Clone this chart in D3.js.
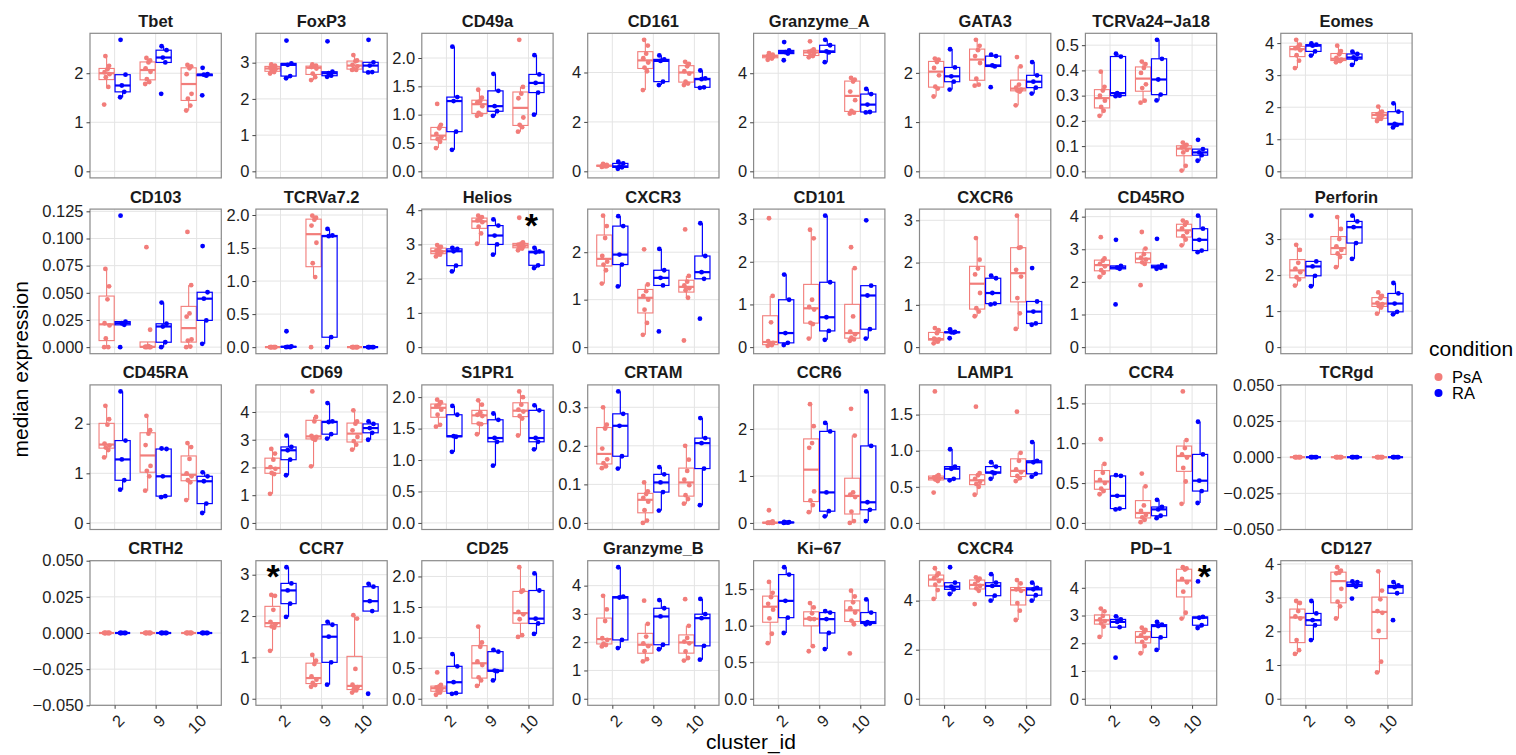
<!DOCTYPE html>
<html>
<head>
<meta charset="utf-8">
<script src="https://cdn.jsdelivr.net/npm/d3@7"></script>
<style>
body { margin: 0; background: #fff; }
text { font-family: "Liberation Sans", Arial, Helvetica, sans-serif; }
</style>
</head>
<body>
<div id="chart"></div>
<script>
var clusters = ["2", "9", "10"];
var conditions = ["PsA", "RA"];
var markers = ["Tbet", "FoxP3", "CD49a", "CD161", "Granzyme_A", "GATA3", "TCRVa24\u2212Ja18", "Eomes",
    "CD103", "TCRVa7.2", "Helios", "CXCR3", "CD101", "CXCR6", "CD45RO", "Perforin",
    "CD45RA", "CD69", "S1PR1", "CRTAM", "CCR6", "LAMP1", "CCR4", "TCRgd",
    "CRTH2", "CCR7", "CD25", "Granzyme_B", "Ki\u221267", "CXCR4", "PD\u22121", "CD127"];

// every marker: [PsA 2, RA 2, PsA 9, RA 9, PsA 10, RA 10]
var Tbet = [[1.36, 1.72, 1.92, 1.98, 2.02, 2.08, 2.15, 2.35], [1.51, 1.62, 1.75, 1.97, 2.68],
    [1.78, 1.82, 1.88, 2.03, 2.10, 2.22, 2.26, 2.31], [1.58, 2.22, 2.32, 2.47, 2.55],
    [1.24, 1.34, 1.48, 1.58, 1.98, 2.10, 2.14, 2.17], [1.55, 1.95, 1.97, 1.98, 2.11]];
var FoxP3 = [[2.70, 2.74, 2.77, 2.82, 2.86, 2.89, 2.92, 2.95], [2.57, 2.63, 2.94, 2.98, 3.61],
    [2.52, 2.60, 2.70, 2.84, 2.88, 2.90, 2.92, 2.95], [2.61, 2.64, 2.71, 2.75, 3.59],
    [2.80, 2.80, 2.83, 2.90, 2.94, 3.04, 3.06, 3.21], [2.73, 2.74, 2.92, 3.01, 3.63]];
var CD49a = [[0.41, 0.52, 0.57, 0.60, 0.66, 0.76, 0.82, 1.19], [0.38, 0.70, 1.24, 1.31, 2.20],
    [0.98, 1.00, 1.03, 1.15, 1.22, 1.24, 1.30, 1.44], [0.98, 1.06, 1.15, 1.42, 1.72],
    [0.70, 0.78, 0.82, 0.95, 1.29, 1.37, 1.49, 2.32], [1.00, 1.39, 1.56, 1.71, 2.05]];
var CD161 = [[0.18, 0.20, 0.21, 0.22, 0.23, 0.24, 0.26, 0.30], [0.10, 0.16, 0.20, 0.32, 0.39],
    [3.29, 4.05, 4.20, 4.40, 4.58, 4.76, 5.09, 5.32], [3.49, 3.63, 4.47, 4.53, 4.69],
    [3.49, 3.55, 3.63, 3.95, 4.05, 4.25, 4.35, 4.43], [3.38, 3.40, 3.73, 3.76, 4.08]];
var Granzyme_A = [[4.55, 4.60, 4.64, 4.68, 4.71, 4.73, 4.76, 4.82], [4.53, 4.80, 4.86, 4.93, 5.27],
    [4.65, 4.70, 4.73, 4.82, 4.88, 4.92, 4.97, 5.30], [4.45, 4.85, 4.89, 5.14, 5.36],
    [2.35, 2.39, 2.46, 2.90, 3.25, 3.66, 3.74, 3.81], [2.40, 2.42, 2.72, 3.15, 3.36]];
var GATA3 = [[1.52, 1.68, 1.72, 1.95, 2.10, 2.22, 2.27, 2.29], [1.66, 1.82, 1.93, 2.11, 2.48],
    [1.74, 1.76, 1.88, 2.20, 2.34, 2.46, 2.55, 2.67], [1.71, 2.13, 2.15, 2.34, 2.37],
    [1.34, 1.62, 1.64, 1.66, 1.70, 1.76, 2.13, 2.32], [1.58, 1.70, 1.82, 1.95, 2.22]];
var TCRVa24_Ja18 = [[0.22, 0.24, 0.255, 0.28, 0.30, 0.32, 0.335, 0.395], [0.298, 0.30, 0.31, 0.455, 0.466],
    [0.272, 0.28, 0.33, 0.345, 0.39, 0.41, 0.425, 0.435], [0.281, 0.304, 0.364, 0.446, 0.521],
    [0.003, 0.022, 0.075, 0.085, 0.095, 0.10, 0.105, 0.114], [0.042, 0.064, 0.075, 0.088, 0.125]];
var Eomes = [[3.22, 3.45, 3.62, 3.78, 3.84, 3.88, 3.95, 4.10], [3.61, 3.74, 3.92, 3.95, 3.99],
    [3.40, 3.44, 3.46, 3.48, 3.54, 3.65, 3.75, 3.92], [3.32, 3.50, 3.55, 3.66, 3.73],
    [1.57, 1.64, 1.66, 1.74, 1.78, 1.82, 1.86, 2.02], [1.37, 1.45, 1.48, 1.86, 2.12]];
var CD103 = [[0, 0, 0.008, 0.020, 0.022, 0.044, 0.056, 0.072], [0, 0.0205, 0.022, 0.0235, 0.121],
    [0, 0, 0, 0, 0.0005, 0.001, 0.016, 0.092], [0, 0.0045, 0.019, 0.0215, 0.041],
    [0, 0.0005, 0.006, 0.007, 0.028, 0.031, 0.057, 0.106], [0.003, 0.0246, 0.0446, 0.0505, 0.093]];
var TCRVa7_2 = [[0, 0, 0, 0, 0, 0, 0, 0], [0, 0, 0.005, 0.01, 0.24],
    [0, 1.06, 1.27, 1.58, 1.84, 1.93, 1.96, 1.99], [0, 0.15, 1.68, 1.69, 1.79],
    [0, 0, 0, 0, 0, 0, 0, 0], [0, 0, 0, 0, 0]];
var Helios = [[2.65, 2.70, 2.74, 2.78, 2.82, 2.88, 2.93, 2.98], [2.21, 2.38, 2.80, 2.87, 2.90],
    [3.02, 3.32, 3.52, 3.65, 3.70, 3.76, 3.80, 3.84], [2.70, 3.00, 3.26, 3.55, 3.73],
    [2.83, 2.88, 2.91, 2.95, 2.99, 3.02, 3.06, 3.78], [2.31, 2.39, 2.77, 2.80, 2.90]];
var CXCR3 = [[1.34, 1.62, 1.74, 1.80, 1.92, 2.30, 2.55, 2.77], [1.28, 1.74, 1.95, 2.55, 2.76],
    [0.26, 0.51, 0.79, 1.00, 1.08, 1.18, 1.32, 2.06], [0.33, 1.30, 1.46, 1.62, 2.07],
    [0.14, 1.04, 1.20, 1.24, 1.30, 1.38, 1.50, 2.48], [0.60, 1.44, 1.58, 1.92, 2.61]];
var CD101 = [[0.03, 0.05, 0.06, 0.10, 0.14, 0.58, 1.20, 3.02], [0.05, 0.10, 0.33, 1.11, 1.70],
    [0.20, 0.54, 0.57, 0.88, 0.94, 1.11, 2.55, 2.75], [0.17, 0.38, 0.70, 1.52, 3.08],
    [0.15, 0.18, 0.22, 0.30, 0.36, 0.72, 1.85, 2.34], [0.20, 0.42, 1.21, 1.44, 2.97]];
var CXCR6 = [[0.09, 0.13, 0.18, 0.18, 0.20, 0.33, 0.40, 0.45], [0.21, 0.345, 0.35, 0.36, 0.42],
    [0.73, 0.84, 0.92, 1.28, 1.72, 1.86, 2.07, 2.58], [1.01, 1.03, 1.28, 1.63, 1.69],
    [0.43, 0.80, 1.16, 1.67, 1.83, 2.35, 2.36, 3.11], [0.53, 0.56, 0.84, 1.08, 1.87]];
var CD45RO = [[2.15, 2.28, 2.36, 2.48, 2.55, 2.65, 2.72, 3.37], [1.31, 2.40, 2.44, 2.49, 3.29],
    [1.90, 2.55, 2.60, 2.68, 2.74, 2.85, 3.02, 3.53], [2.40, 2.43, 2.46, 2.51, 3.32],
    [3.12, 3.30, 3.40, 3.52, 3.64, 3.75, 3.82, 3.88], [2.91, 2.96, 3.29, 3.63, 4.03]];
var Perforin = [[1.71, 1.88, 1.94, 2.08, 2.18, 2.34, 2.70, 2.84], [1.69, 1.98, 2.24, 2.38, 3.65],
    [2.22, 2.50, 2.60, 2.70, 2.80, 3.00, 3.28, 3.61], [2.45, 2.89, 3.33, 3.49, 3.65],
    [0.93, 1.10, 1.14, 1.19, 1.23, 1.36, 1.42, 1.52], [0.91, 0.98, 1.21, 1.49, 1.78]];
var CD45RA = [[1.32, 1.47, 1.52, 1.56, 1.60, 1.98, 2.09, 2.36], [0.67, 0.86, 1.28, 1.66, 2.65],
    [0.65, 0.94, 1.05, 1.15, 1.57, 1.80, 1.87, 2.16], [0.52, 0.54, 0.94, 1.49, 1.50],
    [0.46, 0.82, 0.86, 0.94, 1.00, 1.29, 1.53, 1.61], [0.20, 0.39, 0.84, 0.94, 1.02]];
var CD69 = [[1.05, 1.76, 1.80, 1.95, 2.01, 2.28, 2.50, 2.67], [1.72, 2.28, 2.62, 2.74, 3.15],
    [2.04, 3.00, 3.04, 3.10, 3.14, 3.66, 3.82, 4.74], [3.04, 3.20, 3.64, 3.66, 4.32],
    [2.64, 2.82, 2.95, 3.10, 3.34, 3.58, 3.66, 4.06], [3.00, 3.25, 3.42, 3.57, 3.66]];
var S1PR1 = [[1.53, 1.56, 1.72, 1.80, 1.86, 1.88, 1.92, 1.96], [1.13, 1.37, 1.38, 1.72, 1.86],
    [1.41, 1.57, 1.58, 1.70, 1.72, 1.76, 1.88, 1.95], [0.91, 1.29, 1.35, 1.64, 1.74],
    [1.39, 1.66, 1.70, 1.77, 1.80, 1.88, 2.00, 2.09], [1.17, 1.29, 1.35, 1.79, 1.87]];
var CRTAM = [[0.142, 0.147, 0.155, 0.165, 0.193, 0.245, 0.255, 0.300], [0.141, 0.173, 0.252, 0.283, 0.341],
    [0.000, 0.006, 0.033, 0.055, 0.065, 0.075, 0.082, 0.105], [0.032, 0.080, 0.105, 0.126, 0.145],
    [0.050, 0.062, 0.072, 0.098, 0.112, 0.135, 0.164, 0.200], [0.046, 0.141, 0.207, 0.220, 0.272]];
var CCR6 = [[0, 0, 0, 0, 0.005, 0.01, 0.03, 0.27], [0, 0.005, 0.01, 0.015, 0.02],
    [0.23, 0.38, 0.48, 0.67, 1.60, 1.70, 2.06, 2.53], [0.14, 0.25, 0.65, 1.95, 2.13],
    [0, 0.04, 0.24, 0.55, 0.60, 0.65, 1.86, 2.43], [0.04, 0.28, 0.44, 1.64, 2.80]];
var LAMP1 = [[0.42, 0.58, 0.60, 0.61, 0.63, 0.645, 0.66, 1.82], [0.59, 0.61, 0.75, 0.78, 1.02],
    [0.39, 0.50, 0.54, 0.57, 0.61, 0.66, 0.69, 1.61], [0.61, 0.69, 0.70, 0.78, 0.84],
    [0.58, 0.62, 0.65, 0.70, 0.74, 0.86, 0.97, 1.54], [0.64, 0.68, 0.84, 0.86, 1.12]];
var CCR4 = [[0.36, 0.40, 0.43, 0.50, 0.54, 0.63, 0.74, 1.05], [0.17, 0.18, 0.34, 0.59, 0.60],
    [0.01, 0.04, 0.07, 0.10, 0.15, 0.22, 0.46, 0.62], [0.06, 0.09, 0.17, 0.20, 0.29],
    [0.24, 0.52, 0.69, 0.82, 0.86, 0.94, 1.04, 1.65], [0.25, 0.40, 0.53, 0.86, 1.27]];
var TCRgd = [[0, 0, 0, 0, 0, 0, 0, 0], [0, 0, 0, 0, 0], [0, 0, 0, 0, 0, 0, 0, 0], [0, 0, 0, 0, 0],
    [0, 0, 0, 0, 0, 0, 0, 0], [0, 0, 0, 0, 0]];
var CRTH2 = [[0, 0, 0, 0, 0, 0, 0, 0], [0, 0, 0, 0, 0], [0, 0, 0, 0, 0, 0, 0, 0], [0, 0, 0, 0, 0],
    [0, 0, 0, 0, 0, 0, 0, 0], [0, 0, 0, 0, 0]];
var CCR7 = [[1.16, 1.72, 1.75, 1.80, 1.86, 2.15, 2.49, 2.51], [1.98, 2.30, 2.62, 2.79, 3.18],
    [0.29, 0.33, 0.38, 0.46, 0.54, 0.84, 0.92, 1.06], [0.34, 0.88, 1.50, 1.79, 1.86],
    [0.15, 0.20, 0.23, 0.28, 0.34, 0.72, 1.94, 2.02], [0.12, 2.12, 2.36, 2.71, 2.78]];
var CD25 = [[0.065, 0.10, 0.13, 0.16, 0.185, 0.20, 0.225, 0.43], [0.08, 0.09, 0.27, 0.53, 0.73],
    [0.21, 0.30, 0.35, 0.55, 0.61, 0.85, 0.92, 1.18], [0.30, 0.45, 0.46, 0.77, 0.80],
    [1.01, 1.04, 1.30, 1.38, 1.42, 1.75, 1.77, 2.15], [1.06, 1.23, 1.31, 1.77, 2.05]];
var Granzyme_B = [[1.85, 1.90, 1.95, 2.08, 2.14, 2.75, 3.16, 3.64], [1.79, 2.08, 3.58, 3.61, 4.65],
    [1.32, 1.40, 1.68, 1.86, 1.96, 2.20, 2.65, 3.47], [1.75, 1.91, 2.91, 3.20, 3.49],
    [1.35, 1.44, 1.67, 1.96, 2.02, 2.15, 2.58, 3.52], [1.38, 1.87, 2.85, 2.99, 3.53]];
var Ki_67 = [[0.76, 0.89, 1.10, 1.22, 1.30, 1.39, 1.45, 1.60], [0.90, 1.11, 1.34, 1.70, 1.80],
    [0.65, 0.72, 1.09, 1.09, 1.10, 1.17, 1.25, 1.31], [0.68, 0.90, 1.09, 1.18, 1.20],
    [0.62, 1.02, 1.07, 1.18, 1.24, 1.32, 1.40, 1.48], [1.02, 1.03, 1.05, 1.18, 1.36]];
var CXCR4 = [[4.07, 4.43, 4.65, 4.80, 4.92, 5.02, 5.11, 5.32], [4.27, 4.46, 4.57, 4.73, 5.36],
    [3.86, 4.40, 4.50, 4.60, 4.68, 4.82, 4.90, 4.95], [4.00, 4.20, 4.60, 4.73, 5.08],
    [3.21, 3.59, 3.90, 4.40, 4.46, 4.48, 4.70, 4.84], [4.00, 4.22, 4.46, 4.52, 4.73]];
var PD_1 = [[2.23, 2.60, 2.72, 2.80, 2.86, 2.98, 3.15, 3.25], [1.48, 2.58, 2.77, 2.86, 2.97],
    [1.64, 1.90, 2.05, 2.18, 2.28, 2.40, 2.48, 2.56], [1.76, 2.21, 2.62, 2.67, 2.77],
    [2.89, 3.10, 3.86, 4.20, 4.32, 4.66, 4.70, 4.74], [2.55, 2.65, 2.92, 2.95, 4.23]];
var CD127 = [[1.33, 1.44, 1.74, 2.38, 2.44, 2.60, 2.84, 2.90], [1.74, 2.18, 2.33, 2.53, 2.90],
    [2.38, 2.74, 2.88, 3.26, 3.72, 3.74, 3.80, 3.90], [2.97, 3.33, 3.38, 3.46, 3.48],
    [0.78, 1.10, 2.01, 2.55, 2.60, 2.95, 3.21, 3.78], [2.33, 3.13, 3.31, 3.36, 3.46]];

var markerData = [Tbet, FoxP3, CD49a, CD161, Granzyme_A, GATA3, TCRVa24_Ja18, Eomes,
    CD103, TCRVa7_2, Helios, CXCR3, CD101, CXCR6, CD45RO, Perforin,
    CD45RA, CD69, S1PR1, CRTAM, CCR6, LAMP1, CCR4, TCRgd,
    CRTH2, CCR7, CD25, Granzyme_B, Ki_67, CXCR4, PD_1, CD127];

var m = "\u2212";
var tickLabels = [
    ["0", "1", "2"], ["0", "1", "2", "3"], ["0.0", "0.5", "1.0", "1.5", "2.0"], ["0", "2", "4"],
    ["0", "2", "4"], ["0", "1", "2"], ["0.0", "0.1", "0.2", "0.3", "0.4", "0.5"], ["0", "1", "2", "3", "4"],
    ["0.000", "0.025", "0.050", "0.075", "0.100", "0.125"], ["0.0", "0.5", "1.0", "1.5", "2.0"], ["0", "1", "2", "3", "4"], ["0", "1", "2"],
    ["0", "1", "2", "3"], ["0", "1", "2", "3"], ["0", "1", "2", "3", "4"], ["0", "1", "2", "3"],
    ["0", "1", "2"], ["0", "1", "2", "3", "4"], ["0.0", "0.5", "1.0", "1.5", "2.0"], ["0.0", "0.1", "0.2", "0.3"],
    ["0", "1", "2"], ["0.0", "0.5", "1.0", "1.5"], ["0.0", "0.5", "1.0", "1.5"], [m + "0.050", m + "0.025", "0.000", "0.025", "0.050"],
    [m + "0.050", m + "0.025", "0.000", "0.025", "0.050"], ["0", "1", "2", "3"], ["0.0", "0.5", "1.0", "1.5", "2.0"], ["0", "1", "2", "3", "4"],
    ["0.0", "0.5", "1.0", "1.5"], ["0", "2", "4"], ["0", "1", "2", "3", "4"], ["0", "1", "2", "3", "4"]];

// significance stars: panel, x in cluster units (1 = "2", 2 = "9", 3 = "10"), y value
var starPanels = ["Helios", "CCR7", "PD\u22121"];
var starX = [3.07, 0.82, 3.3];
var starY = [3.68, 3.06, 4.56];

var colors = { PsA: "#F27D7A", RA: "#0000FF" };

var W = 1516, H = 755;
var panelW = 131.3, panelH = 144.6;
var jitter = [-0.06, 0.04, -0.02, 0.07, -0.05, 0.02, 0.06, -0.03];

function colLeft(c) { return c < 7 ? 90 + c * 165.9 : 1280.8; }
function rowTop(r) { return 33.3 + r * 175.8; }

var svg = d3.select("#chart").append("svg")
    .attr("width", W)
    .attr("height", H);

svg.append("rect").attr("width", W).attr("height", H).attr("fill", "#fff");

var x = d3.scaleLinear().domain([0.4, 3.6]).range([0, panelW]);

markers.forEach(function (name, i) {
    var r = Math.floor(i / 8), c = i % 8;
    var groups = markerData[i];
    var all = d3.merge(groups);
    var lo = Math.min(0, d3.min(all)), hi = Math.max(0, d3.max(all));
    var dom = hi === lo ? [-0.05, 0.05] : [lo - (hi - lo) * 0.05, hi + (hi - lo) * 0.05];
    var y = d3.scaleLinear().domain(dom).range([panelH, 0]);
    var labels = tickLabels[i];
    var tickVals = labels.map(function (s) { return +s.replace("\u2212", "-"); });

    var g = svg.append("g")
        .attr("transform", "translate(" + colLeft(c) + "," + rowTop(r) + ")");

    // grid
    g.selectAll(".hg").data(tickVals).enter().append("line")
        .attr("x1", 0).attr("x2", panelW)
        .attr("y1", function (d) { return y(d); }).attr("y2", function (d) { return y(d); })
        .attr("stroke", "#e4e4e4").attr("stroke-width", 1);
    g.selectAll(".vg").data([1, 2, 3]).enter().append("line")
        .attr("x1", function (d) { return x(d); }).attr("x2", function (d) { return x(d); })
        .attr("y1", 0).attr("y2", panelH)
        .attr("stroke", "#e4e4e4").attr("stroke-width", 1);

    // boxes
    groups.forEach(function (vals, k) {
        var cond = conditions[k % 2];
        var cx = Math.floor(k / 2) + 1 + (k % 2 ? 0.195 : -0.195);
        var s = vals.slice().sort(d3.ascending);
        var q1 = d3.quantileSorted(s, 0.25), med = d3.quantileSorted(s, 0.5), q3 = d3.quantileSorted(s, 0.75);
        var iqr = q3 - q1;
        var wLo = d3.min(s.filter(function (v) { return v >= q1 - 1.5 * iqr; }));
        var wHi = d3.max(s.filter(function (v) { return v <= q3 + 1.5 * iqr; }));
        var col = colors[cond];
        var x0 = x(cx - 0.185), x1 = x(cx + 0.185), xm = x(cx);
        var sw = cond === "RA" ? 1.2 : 1.1;

        g.append("line").attr("x1", xm).attr("x2", xm).attr("y1", y(q3)).attr("y2", y(wHi))
            .attr("stroke", col).attr("stroke-width", sw);
        g.append("line").attr("x1", xm).attr("x2", xm).attr("y1", y(q1)).attr("y2", y(wLo))
            .attr("stroke", col).attr("stroke-width", sw);
        g.append("rect").attr("x", x0).attr("width", x1 - x0)
            .attr("y", y(q3)).attr("height", Math.max(0, y(q1) - y(q3)))
            .attr("fill", "none").attr("stroke", col).attr("stroke-width", sw);
        g.append("line").attr("x1", x0).attr("x2", x1).attr("y1", y(med)).attr("y2", y(med))
            .attr("stroke", col).attr("stroke-width", 2.2);
    });

    // points
    groups.forEach(function (vals, k) {
        var cond = conditions[k % 2];
        var cx = Math.floor(k / 2) + 1 + (k % 2 ? 0.195 : -0.195);
        g.selectAll(".p" + k).data(vals).enter().append("circle")
            .attr("cx", function (d, j) { return x(cx + jitter[j % jitter.length]); })
            .attr("cy", function (d) { return y(d); })
            .attr("r", 2.4)
            .attr("fill", colors[cond]);
    });

    // border
    g.append("rect").attr("width", panelW).attr("height", panelH)
        .attr("fill", "none").attr("stroke", "#8a8a8a").attr("stroke-width", 1.2);

    // y axis
    var yAxis = d3.axisLeft(y).tickValues(tickVals)
        .tickFormat(function (d, j) { return labels[j]; })
        .tickSize(3.5).tickPadding(3);
    var ya = g.append("g").call(yAxis);
    ya.select(".domain").remove();
    ya.selectAll(".tick line").attr("stroke", "#444");
    ya.selectAll(".tick text").attr("font-size", 16.5).attr("fill", "#1e1e1e")
        .style("font-family", "'Liberation Sans', Arial, sans-serif");

    // x axis on bottom row only
    if (r === 3) {
        var xAxis = d3.axisBottom(x).tickValues([1, 2, 3])
            .tickFormat(function (d) { return clusters[d - 1]; })
            .tickSize(3.5);
        var xa = g.append("g").attr("transform", "translate(0," + panelH + ")").call(xAxis);
        xa.select(".domain").remove();
        xa.selectAll(".tick line").attr("stroke", "#444");
        xa.selectAll(".tick text")
            .attr("font-size", 16.5).attr("fill", "#1e1e1e")
            .style("font-family", "'Liberation Sans', Arial, sans-serif")
            .attr("text-anchor", "end")
            .attr("y", 0).attr("dy", "0.72em")
            .attr("transform", "translate(2,8) rotate(-45)");
    }

    // strip title
    g.append("text")
        .attr("x", panelW / 2).attr("y", -6.5)
        .attr("text-anchor", "middle")
        .attr("font-size", 16.5).attr("font-weight", "bold").attr("fill", "#1a1a1a")
        .text(name);

    // stars
    var si = starPanels.indexOf(name);
    if (si >= 0) {
        g.append("text")
            .attr("x", x(starX[si])).attr("y", y(starY[si]) + 16)
            .attr("text-anchor", "middle")
            .attr("font-size", 34).attr("font-weight", "bold").attr("fill", "#000")
            .text("*");
    }
});

// axis titles
svg.append("text")
    .attr("transform", "translate(28," + (rowTop(0) + (rowTop(3) + panelH - rowTop(0)) / 2) + ") rotate(-90)")
    .attr("text-anchor", "middle")
    .attr("font-size", 21).attr("fill", "#000")
    .text("median expression");

svg.append("text")
    .attr("x", (colLeft(0) + colLeft(7) + panelW) / 2).attr("y", 749)
    .attr("text-anchor", "middle")
    .attr("font-size", 21).attr("fill", "#000")
    .text("cluster_id");

// legend
var legend = svg.append("g").attr("transform", "translate(1429,0)");
legend.append("text").attr("x", 0).attr("y", 356)
    .attr("font-size", 21).attr("fill", "#000").text("condition");
conditions.forEach(function (cnd, k) {
    legend.append("circle").attr("cx", 9.5).attr("cy", 377 + k * 16).attr("r", 4)
        .attr("fill", colors[cnd]);
    legend.append("text").attr("x", 23).attr("y", 377 + k * 16).attr("dy", "0.35em")
        .attr("font-size", 16.5).attr("fill", "#000").text(cnd);
});
</script>
</body>
</html>
